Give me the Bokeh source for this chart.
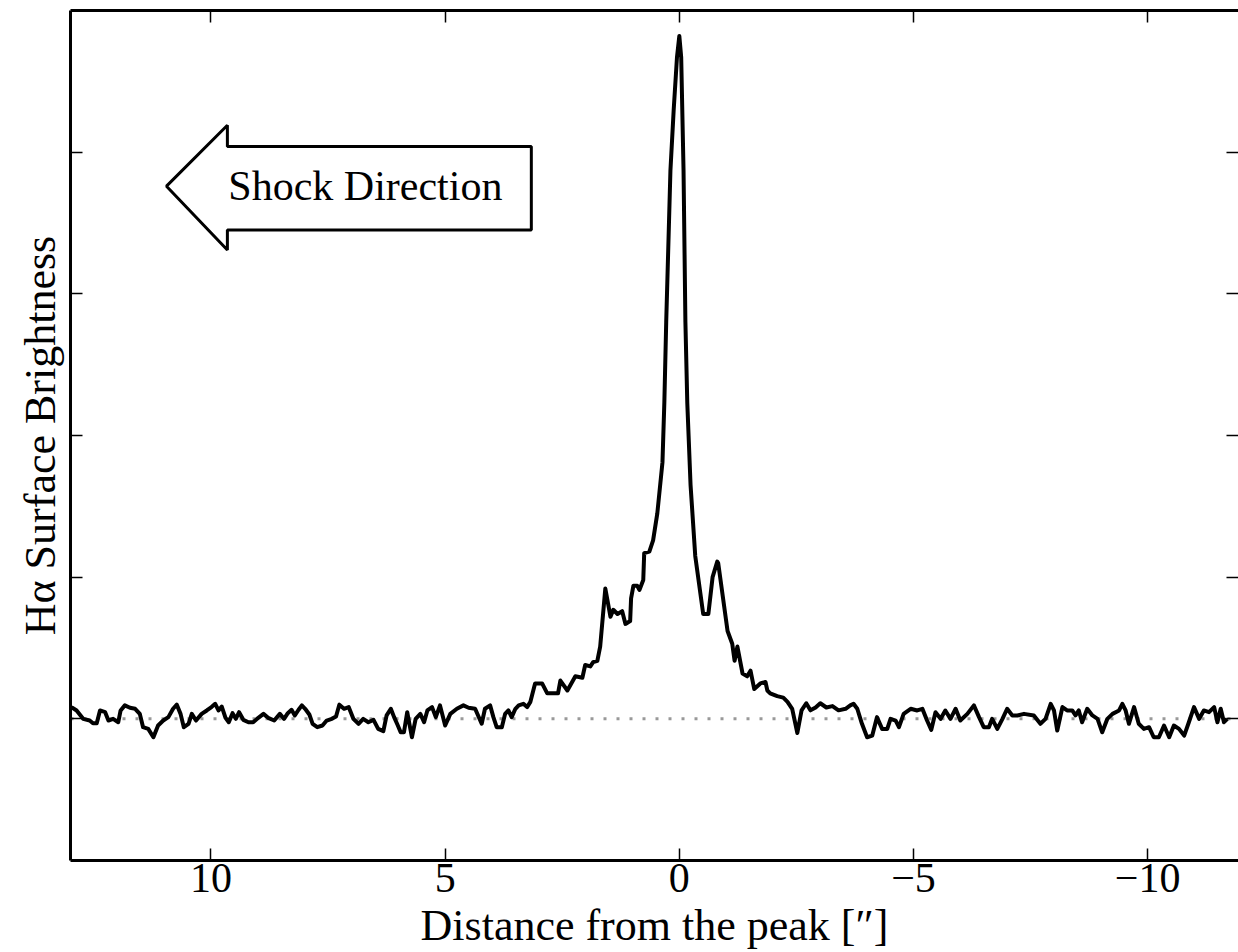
import numpy as np
from bokeh.plotting import figure
from bokeh.models import Range1d, LinearAxis, FixedTicker, Label, Span
from bokeh.embed import file_html
from bokeh.resources import INLINE

# ---- data ----
DIST = [12.98, 12.87, 12.73, 12.59, 12.52, 12.44, 12.37, 12.26, 12.19, 12.09, 11.98, 11.93,
        11.84, 11.73, 11.62, 11.52, 11.45, 11.34, 11.23, 11.13, 11.02, 10.91, 10.81, 10.73,
        10.65, 10.58, 10.48, 10.41, 10.32, 10.20, 10.09, 9.99, 9.91, 9.84, 9.77, 9.69, 9.62,
        9.54, 9.47, 9.40, 9.31, 9.20, 9.10, 8.99, 8.88, 8.78, 8.65, 8.53, 8.44, 8.36, 8.28,
        8.21, 8.13, 8.06, 7.99, 7.90, 7.83, 7.73, 7.62, 7.53, 7.42, 7.33, 7.26, 7.16, 7.06,
        6.96, 6.85, 6.75, 6.64, 6.53, 6.43, 6.32, 6.25, 6.16, 6.09, 6.02, 5.95, 5.88, 5.81,
        5.71, 5.63, 5.53, 5.45, 5.38, 5.28, 5.20, 5.11, 5.00, 4.89, 4.75, 4.61, 4.50, 4.36,
        4.22, 4.15, 4.04, 3.97, 3.90, 3.79, 3.72, 3.65, 3.58, 3.50, 3.43, 3.33, 3.25, 3.18,
        3.08, 2.93, 2.82, 2.59, 2.54, 2.39, 2.22, 2.07, 2.01, 1.90, 1.84, 1.75, 1.69, 1.58,
        1.47, 1.41, 1.32, 1.22, 1.15, 1.05, 1.03, 0.98, 0.90, 0.85, 0.77, 0.75, 0.64, 0.56,
        0.47, 0.36, 0.32, 0.28, 0.19, 0.12, 0.05, 0.00, -0.04, -0.09, -0.13, -0.17, -0.24,
        -0.34, -0.51, -0.62, -0.71, -0.81, -0.83, -1.03, -1.13, -1.18, -1.24, -1.35, -1.45,
        -1.52, -1.60, -1.73, -1.84, -1.88, -1.94, -2.09, -2.22, -2.31, -2.41, -2.52, -2.61,
        -2.71, -2.80, -2.91, -3.01, -3.14, -3.27, -3.40, -3.55, -3.65, -3.72, -3.80, -3.90,
        -4.01, -4.12, -4.22, -4.33, -4.44, -4.51, -4.62, -4.69, -4.79, -4.94, -5.08, -5.19,
        -5.29, -5.38, -5.47, -5.58, -5.68, -5.79, -5.90, -6.00, -6.15, -6.29, -6.40, -6.50,
        -6.61, -6.68, -6.79, -6.90, -7.00, -7.11, -7.22, -7.36, -7.57, -7.71, -7.82, -7.93,
        -8.00, -8.07, -8.18, -8.28, -8.39, -8.46, -8.53, -8.60, -8.71, -8.82, -8.93, -9.03,
        -9.14, -9.25, -9.39, -9.46, -9.53, -9.60, -9.71, -9.81, -9.92, -10.03, -10.13,
        -10.24, -10.35, -10.46, -10.56, -10.67, -10.78, -10.88, -10.99, -11.10, -11.20,
        -11.31, -11.42, -11.49, -11.56, -11.63, -11.70]

BRIGHT = [0.083, 0.059, 0.0, -0.012, -0.031, -0.031, 0.059, 0.047, -0.012, 0.0, -0.024, 0.059,
          0.095, 0.078, 0.071, 0.035, -0.059, -0.071, -0.13, -0.047, -0.012, 0.012, 0.071, 0.10,
          0.035, -0.059, -0.035, 0.035, -0.012, 0.035, 0.059, 0.083, 0.106, 0.059, 0.087, 0.007, -0.024,
          0.04, 0.0, 0.047, -0.007, -0.024, -0.024, 0.007, 0.035, 0.007, -0.012, 0.035, 0.0, 0.04, 0.064,
          0.024, 0.064, 0.095, 0.071, 0.031, -0.035, -0.059, -0.047, -0.012, 0.0, 0.017, 0.10, 0.071, 0.083,
          0.0, -0.035, 0.0, -0.024, -0.007, -0.071, -0.087, 0.024, 0.071, 0.012, -0.04, -0.095, -0.095, 0.047,
          -0.13, 0.0, 0.035, -0.024, 0.059, 0.083, 0.012, 0.095, -0.047, 0.035, 0.071, 0.095, 0.078, 0.071,
          -0.035, 0.071, 0.095, 0.012, -0.059, -0.059, 0.035, 0.059, 0.012, 0.071, 0.095, 0.106, 0.083, 0.12,
          0.25, 0.25, 0.18, 0.18, 0.27, 0.20, 0.30, 0.29, 0.38, 0.37, 0.40, 0.41, 0.51, 0.92,
          0.72, 0.77, 0.74, 0.76, 0.67, 0.69, 0.85, 0.94, 0.94, 0.91, 0.98, 1.17, 1.18, 1.26,
          1.45, 1.81, 2.23, 2.80, 3.87, 4.30, 4.67, 4.82, 4.67, 3.87, 2.80, 2.23, 1.65,
          1.15, 0.74, 0.74, 1.00, 1.11, 1.10, 0.62, 0.53, 0.41, 0.51, 0.32, 0.30,
          0.34, 0.21, 0.25, 0.26, 0.20, 0.18, 0.16, 0.15, 0.12, 0.07, -0.10, 0.06,
          0.11, 0.06, 0.08, 0.11, 0.08, 0.09, 0.06, 0.071, 0.095, 0.106, 0.071, -0.035,
          -0.13, -0.118, 0.012, -0.071, -0.071, 0.0, -0.012, -0.059, 0.035, 0.071, 0.059, 0.071,
          -0.012, -0.078, 0.047, 0.0, 0.059, 0.0, 0.071, -0.012, 0.035, 0.095, 0.012, -0.059,
          -0.059, 0.0, -0.071, 0.0, 0.071, 0.024, 0.024, 0.035, 0.024, -0.035, 0.0, 0.106,
          0.059, -0.083, 0.083, 0.059, 0.059, 0.024, 0.059, -0.024, 0.071, 0.024, 0.0, -0.095,
          0.0, 0.035, 0.059, 0.106, 0.059, -0.035, 0.083, -0.035, -0.071, -0.059, -0.13,
          -0.13, -0.047, -0.13, -0.047, -0.071, -0.118, -0.024, 0.083, 0.0,
          0.059, 0.047, 0.083, -0.024, 0.071, -0.024, 0.0]

X_TICKS = [10, 5, 0, -5, -10]
X_TICK_LABELS = {10: "10", 5: "5", 0: "0", -5: "\u22125", -10: "\u221210"}
Y_TICKS = [0, 1, 2, 3, 4]

# Block arrow ("Shock Direction") outline, in data units
ARROW_X = [10.95, 9.65, 9.65, 3.16, 3.16, 9.65, 9.65]
ARROW_Y = [3.76, 4.19, 4.04, 4.04, 3.45, 3.45, 3.31]

FONT = "Liberation Serif"

p = figure(width=1238, height=952, output_backend="svg", toolbar_location=None,
           x_range=Range1d(13.0, -11.94), y_range=Range1d(-1.0, 5.0),
           x_axis_location=None, y_axis_location=None,
           min_border_left=70, min_border_right=0, min_border_top=10, min_border_bottom=0)
p.outline_line_color = None
p.xgrid.visible = False
p.ygrid.visible = False
p.background_fill_color = "white"
p.border_fill_color = "white"

def style_axis(ax, line=True, labels=False):
    ax.axis_line_width = 3
    ax.axis_line_color = "black" if line else None
    ax.major_tick_in = 12
    ax.major_tick_out = 0
    ax.major_tick_line_width = 1.5
    ax.major_tick_line_color = "black"
    ax.minor_tick_line_color = None
    ax.major_label_text_font = FONT
    ax.major_label_text_color = "black"
    ax.axis_label_text_font = FONT
    ax.axis_label_text_color = "black"
    ax.axis_label_text_font_style = "normal"
    if not labels:
        ax.major_label_text_font_size = "0px"
        ax.major_label_standoff = 0

bottom = LinearAxis(ticker=FixedTicker(ticks=X_TICKS), major_label_overrides=X_TICK_LABELS,
                    axis_label="Distance from the peak [\u2033]")
style_axis(bottom, labels=True)
bottom.major_label_text_font_size = "42px"
bottom.major_label_standoff = 3
bottom.axis_label_text_font_size = "44px"
bottom.axis_label_standoff = 6
p.add_layout(bottom, "below")

top = LinearAxis(ticker=FixedTicker(ticks=X_TICKS))
style_axis(top)
top.major_label_overrides = {t: "" for t in X_TICKS}
p.add_layout(top, "above")

left = LinearAxis(ticker=FixedTicker(ticks=Y_TICKS), axis_label="H\u03b1 Surface Brightness")
style_axis(left)
left.major_label_overrides = {t: "" for t in Y_TICKS}
left.axis_label_text_font_size = "44px"
left.axis_label_standoff = 6
p.add_layout(left, "left")

right = LinearAxis(ticker=FixedTicker(ticks=Y_TICKS))
style_axis(right, line=False)
right.major_label_overrides = {t: "" for t in Y_TICKS}
p.add_layout(right, "right")

# zero level
p.add_layout(Span(location=0, dimension="width", line_color="#999999", line_width=3,
                  line_dash="3 10", level="underlay"))

# profile
p.line(DIST, BRIGHT, line_color="black", line_width=4, line_join="round")

# shock direction arrow
p.patch(ARROW_X, ARROW_Y, fill_color="white", line_color="black", line_width=3)
p.add_layout(Label(x=9.63, y=3.76, text="Shock Direction", text_font=FONT, text_color="black",
                   text_font_size="42px", text_baseline="middle", text_align="left"))

open("out.html", "w").write(file_html(p, INLINE))
